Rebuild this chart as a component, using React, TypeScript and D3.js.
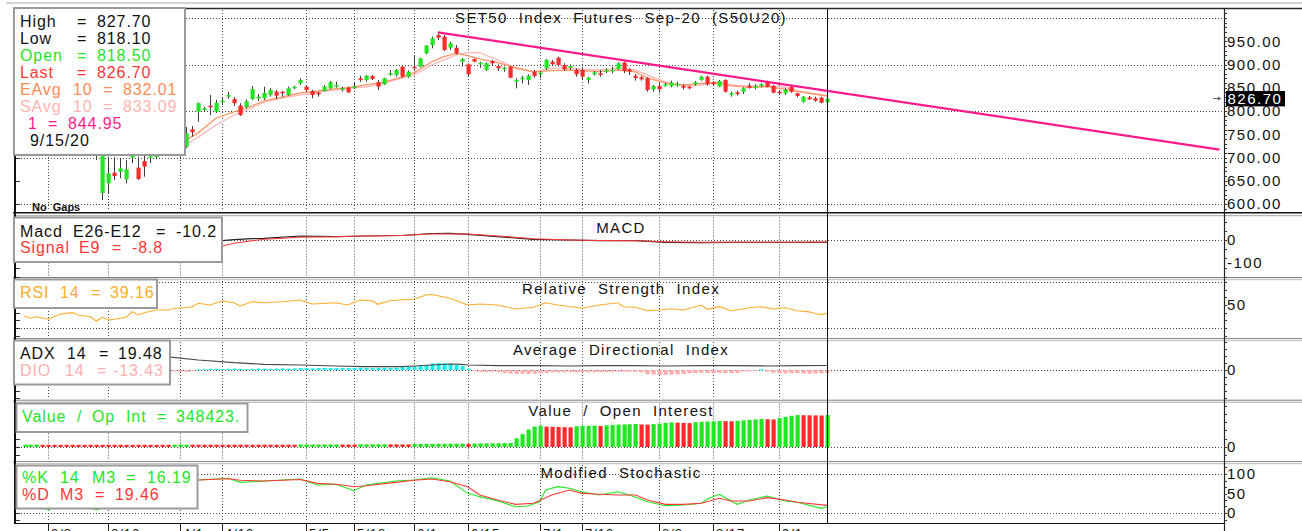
import React from "react";
import * as d3 from "d3";

// ---------- DATA ----------
const opens = [
  905, 893, 882, 868, 870, 882, 888, 872, 855, 810,
  795, 795, 760, 623.7, 644.5, 667.3, 669.5, 653.1, 699.6, 678.1,
  692.5, 700, 701.1, 710, 712, 718, 720, 723.2, 760.6, 798.5,
  802.2, 811.4, 798.5, 819.4, 830.8, 825.8, 812, 808, 825.8, 827.3,
  827.3, 834.4, 841.5, 841.5, 834.4, 848.8, 859.6, 852.3, 843, 839.4,
  843, 848.8, 853.1, 845.2, 850.1, 848.8, 870.3, 866.7, 875.3, 861.7,
  857.4, 877.4, 877.4, 895.3, 873.8, 895.3, 895.3, 924.1, 941.9, 963.4,
  959.8, 936.1, 936.1, 906, 900.4, 911.8, 900.4, 888.2, 907.5, 896.8,
  889.7, 895.3, 863, 868.2, 866.7, 884.5, 878.9, 891.8, 906, 914.6,
  898.9, 893.1, 888.2, 888.2, 866.7, 878.9, 881.1, 884.5, 888.2, 890.3,
  904.3, 889.2, 875.9, 872.5, 870.3, 846.7, 853.8, 853.8, 853.8, 855.9,
  853.8, 852.3, 857.4, 866.7, 873.8, 861.7, 852.3, 866.7, 834.4, 840.2,
  841.5, 853.8, 850.1, 853.8, 863, 853.8, 841.5, 838.1, 852.3, 838.1,
  820, 829.5, 827.3, 828.6, 818.5,
];
const highs = [
  912, 900, 888, 880, 885, 895, 892, 880, 862, 820,
  815, 800, 765, 722, 701.7, 701, 698.3, 694.6, 711.8, 701.7,
  709.7, 709.7, 711.8, 725, 728, 735, 740, 765.6, 767.7, 818,
  809.2, 834.4, 823.7, 828, 840.9, 830, 816.6, 825, 853.8, 836.6,
  852.3, 849.5, 845.2, 843, 852.3, 854.4, 870.3, 855.9, 845.2, 841.5,
  855.9, 864.5, 863, 852.3, 852.3, 860.2, 875.9, 877.4, 877.4, 866.7,
  871.6, 888.2, 890.3, 897.4, 887.5, 920.4, 914.6, 941.9, 959.8, 967.1,
  963.4, 949, 941.9, 914, 902.6, 913.3, 906, 904.7, 909.7, 900.4,
  895.3, 897.4, 870.3, 875.9, 878.9, 888.2, 886, 911.8, 909.7, 916.8,
  902.6, 900.4, 891.8, 891.8, 873.8, 886, 888.2, 891.8, 895.3, 904.7,
  906.5, 891.8, 879.6, 875.3, 872.5, 855.9, 859.6, 860.9, 865.2, 863,
  857.4, 854.4, 864.5, 875.9, 875.9, 864.5, 866.7, 868.2, 841.5, 843.7,
  851, 859.6, 857.4, 859.6, 865.2, 855.9, 845.2, 848.8, 855.9, 839.4,
  832.3, 832.3, 830.8, 830.8, 827.7,
];
const lows = [
  890, 875, 860, 850, 862, 875, 870, 855, 830, 780,
  785, 760, 694.6, 608.6, 623, 651.6, 655.3, 644.5, 688.2, 651.6,
  658.7, 688.2, 698.3, 703.2, 705, 708, 702, 720.4, 744.7, 777,
  798.5, 791, 795.7, 813, 826, 810.7, 789, 805, 823.7, 821.5,
  823.7, 830.8, 825.8, 830.8, 832.9, 846.7, 855.9, 841.5, 827.3, 830.8,
  841.5, 847.3, 850.1, 841.5, 838.1, 847.3, 863, 863, 866.7, 845.2,
  855.9, 875.9, 873.8, 871.6, 871.6, 888.2, 894, 921.9, 934.8, 952.7,
  929, 931.2, 921.9, 895.3, 873.8, 904.7, 893.1, 886, 898.9, 886,
  884.5, 870.3, 848.8, 859.6, 855.9, 871.6, 870.3, 888.2, 897.4, 895.3,
  886, 888.2, 873.8, 868.8, 859.6, 875.9, 873.8, 881.1, 881.1, 888.2,
  881.7, 877.4, 865.2, 865.2, 841.5, 841.5, 839.4, 852.3, 851, 852.3,
  846.7, 846.7, 854.4, 865.2, 854.4, 854.4, 851, 839.4, 830.8, 832.9,
  836.6, 848, 846.7, 851, 851, 838.1, 834.4, 834.4, 839.4, 829.5,
  817.8, 823.7, 820, 816.6, 818.1,
];
const closes = [
  895, 880, 865, 875, 880, 890, 875, 860, 838, 790,
  805, 768, 708, 712, 666, 660.2, 676.8, 674.6, 703.2, 653.8,
  680.2, 702.2, 705.4, 715, 718, 722, 728, 752, 754.2, 816.6,
  805.8, 808, 817.8, 822.2, 834.4, 816.6, 791.4, 821, 847.3, 830.8,
  838.7, 845.2, 832.9, 838.1, 848.8, 852.3, 866.7, 845.2, 834.4, 835.9,
  852.3, 861.7, 855.9, 848.8, 840.2, 852.3, 867.3, 875.9, 868.8, 852.3,
  870.3, 881.1, 888.2, 873.8, 884.5, 891.8, 913.3, 940.4, 956.3, 957.6,
  931.2, 945.6, 924.1, 911.8, 878.9, 906, 903.9, 902.6, 902.6, 891.8,
  893.1, 871.6, 866.7, 871.6, 875.9, 875.3, 882.4, 909.7, 900.4, 898.9,
  889.7, 896.8, 878.9, 873.8, 871.6, 883.2, 878.9, 888.2, 888.9, 902.6,
  886, 884.9, 871, 868.2, 845.2, 853.8, 846.7, 857.4, 860.9, 858.1,
  850.1, 848.8, 861.7, 873.8, 857.4, 857.4, 864.5, 841.5, 838.1, 836.6,
  848.8, 850.1, 853.8, 857.4, 852.3, 839.4, 838.1, 845.2, 841.5, 832.3,
  830.8, 825.2, 822.2, 817.8, 826.7,
];

const dateLabels = ["3/2", "3/16", "4/1", "4/13", "5/5", "5/18", "6/1", "6/15", "7/1", "7/13", "8/3", "8/17", "9/1"];
const dateIndex = [4, 14, 26, 33, 47, 55, 65, 74, 86, 93, 106, 115, 126];

const priceTicks = [950, 900, 850, 800, 750, 700, 650, 600];
const priceGrid = [1000, 900, 800, 700, 600];

type Pt = [number, number];

const emaPoints: Pt[] = [
  [26, 731], [29, 753], [32, 785], [35, 798], [38, 811], [40, 822], [43, 830], [46, 839], [49, 843],
  [52, 848], [54, 850], [57, 856], [60, 862], [63, 873], [65, 882], [68, 906], [70, 917], [72, 924],
  [74, 919], [76, 912], [79, 904], [82, 893], [85, 884], [88, 887], [91, 888], [93, 887], [96, 884.5],
  [99, 888], [102, 884], [104, 871], [107, 860], [110, 856], [113, 859.6], [116, 859.6], [118, 854],
  [121, 851], [124, 852.3], [127, 846.7], [129, 842], [132, 836], [134, 832.01],
];
const smaPoints: Pt[] = [
  [26, 720], [29, 744], [32, 770], [35, 791], [38, 806.5], [40, 819], [43, 828], [46, 834.4], [49, 841],
  [52, 845], [54, 849.5], [57, 851.6], [60, 860], [63, 871], [65, 877], [68, 899], [70, 910], [72, 920],
  [74, 926], [76, 925.4], [79, 910], [82, 892], [85, 884.5], [88, 891.8], [91, 891.8], [93, 889.7],
  [96, 888.2], [99, 891.8], [102, 888.2], [104, 877.4], [107, 863], [110, 853.8], [113, 855.9], [116, 863],
  [118, 855.9], [121, 853.8], [124, 853.8], [127, 851], [129, 843.7], [132, 836.6], [134, 833.09],
];
const trendPoints: Pt[] = [[69, 969], [199.5, 717]];

const macdPoints: Pt[] = [
  [30, -15], [33, -3], [35, 2], [38, 6], [40, 7.4], [46, 17.4], [52, 14.3], [57, 17.4], [63, 19.6],
  [68, 28.3], [71, 29], [74, 24.8], [79, 14.3], [85, 3], [91, 0], [96, -3], [102, -3], [107, -10],
  [113, -11.7], [118, -10], [124, -10], [129, -10], [134, -10.2],
];
const signalPoints: Pt[] = [
  [30, -40], [33, -26], [35, -14], [38, -3], [40, 3], [46, 11.7], [52, 14.3], [57, 17.4], [63, 19.6],
  [68, 26], [71, 26], [74, 26], [79, 17.4], [85, 5.6], [91, 0], [96, -2], [102, -3], [107, -7.4],
  [113, -9.6], [118, -10], [124, -10], [129, -9.6], [134, -8.8],
];

const rsiPoints: Pt[] = [
  [0, 35.7], [1, 32.7], [2, 34.7], [4, 31.4], [6, 38.3], [8, 40], [9, 37], [11, 34.7], [12, 29.1],
  [13, 34], [14, 30.4], [15, 31.4], [17, 34], [18, 41.3], [19, 37], [20, 40], [22, 43.5], [24, 43.5],
  [25, 45.7], [26, 45.7], [28, 47.8], [29, 52.2], [31, 50], [33, 55.2], [35, 53], [36, 48.7], [38, 54.3],
  [40, 53], [43, 54.3], [46, 56.5], [48, 51.3], [52, 53], [54, 50], [56, 56.5], [58, 55.6], [59, 50.9],
  [61, 55.6], [63, 56.8], [65, 57.4], [67, 63], [68, 63.7], [69, 62.1], [71, 58.7], [74, 50], [76, 51.3],
  [79, 50], [82, 44.8], [85, 47], [87, 53], [89, 50], [92, 47], [93, 45.7], [96, 50], [99, 53],
  [100, 47.8], [102, 47], [104, 42.6], [106, 43.5], [108, 45.2], [110, 43.5], [113, 50], [114, 44.4],
  [116, 47.8], [118, 42.6], [121, 46.5], [123, 47.8], [125, 44.8], [127, 46.5], [129, 42.6], [131, 41],
  [132, 39], [133, 37.5], [134, 39.16],
];

const adxPoints: Pt[] = [
  [24, 57], [29, 43.5], [35, 31.7], [40, 24.8], [46, 21.7], [52, 17.4], [57, 14.3], [63, 14.3], [65, 17.4],
  [68, 21.7], [71, 26], [73, 24.8], [74, 21.7], [79, 18.7], [85, 18.7], [91, 17.4], [96, 18.7], [102, 18.7],
  [107, 17.4], [113, 18.7], [118, 18.7], [124, 17.4], [129, 18.7], [134, 19.48],
];
const dioStart = 25;
const dioValues = [
  -6, -8, -8, -5,
  3, 4, 5, 5, 4, 5, 6, 5, 4, 5, 6, 6, 5, 6, 7, 6, 7,
  8, 8, 7, 8, 9, 8, 8, 9, 8, 9, 10, 9, 8, 9, 10, 9, 10,
  12, 13, 15, 20, 22, 28, 30, 29, 27, 22, 18, 6,
  -5, -8, -9, -8, -9,
  -14, -16, -17, -16, -17, -16, -15, -12,
  -10, -11, -10, -9, -10, -11, -10, -10, -9, -10, -9, -8,
  -7, -7, -8, -10,
  -18, -20, -22, -21, -20, -19, -18,
  -14, -13, -12, -13, -14, -13, -13, -14, -13,
  -7, -6, -5, 3,
  -8, -12, -14, -15, -14, -13, -15, -16, -15, -14, -13.43,
];

const oiValues = [
  26000, 26000, 26000, 24000, 24000, 24000, 24000, 24000, 24000, 24000,
  24000, 24000, 24000, 24000, 24000, 24000, 24000, 24000, 24000, 24000,
  24000, 24000, 24000, 24000, 24000, 26000, 26000, 26000, 25000, 25000,
  25000, 25000, 25000, 25000, 25000, 25000, 25000, 25000, 25000, 25000,
  25000, 25000, 25000, 25000, 25000, 25000, 28000, 28000, 28000, 28000,
  28000, 28000, 28000, 27000, 27000, 27000, 30000, 30000, 30000, 30000,
  30000, 29000, 29000, 29000, 29000, 33000, 33000, 34000, 34000, 35000,
  35000, 36000, 36000, 36000, 35000, 38000, 39000, 40000, 40000, 41000,
  42000, 45000, 95000, 140000, 190000, 222000, 232000, 222000, 220000, 218000,
  216000, 215000, 225000, 228000, 230000, 232000, 228000, 236000, 240000, 244000,
  246000, 248000, 250000, 245000, 243000, 250000, 255000, 262000, 268000, 265000,
  262000, 260000, 270000, 275000, 278000, 280000, 283000, 281000, 280000, 285000,
  290000, 295000, 300000, 305000, 302000, 300000, 315000, 328000, 340000, 348000,
  346000, 345000, 344000, 343000, 348423,
];
const oiDirection = (
  "ggg" + "rrrrrrrrrrrrrrrrrrrrrr" + "ggg" + "rrrrrrrrrrrrrrrrrr" + "ggggggg" + "rrr" + "ggggg" + "rrrr" +
  "ggggggggg" + "r" + "gggggggggggg" + "rrrrr" + "gggg" + "r" + "gggggg" + "rr" + "gggg" + "rrr" + "ggggg" +
  "rr" + "ggggg" + "rr" + "gggg" + "rrrr" + "g"
).split("");

const stochK: Pt[] = [
  [0, 30], [2, 18], [4, 8], [6, 25], [8, 15], [10, 20], [12, 8], [14, 18], [16, 32], [18, 48], [20, 55],
  [22, 62], [24, 70], [26, 78], [29, 84.6], [34, 89], [36, 78.6], [40, 82], [46, 87], [49, 71.8], [52, 73.6],
  [55, 57], [57, 71.8], [62, 82], [65, 84.6], [68, 90.5], [71, 82], [74, 50.4], [76, 41.9], [79, 30.8],
  [82, 16.2], [84, 18], [86, 29], [87, 59], [89, 67.5], [91, 63.3], [93, 54.6], [96, 46], [99, 54.6],
  [101, 46], [104, 29], [107, 18.8], [110, 20.5], [113, 24.8], [114, 35.9], [116, 47.9], [119, 22.2],
  [121, 33.3], [124, 43.6], [127, 30.8], [129, 27.4], [133, 12], [134, 16.19],
];
const stochD: Pt[] = [
  [0, 35], [4, 18], [8, 20], [12, 14], [16, 25], [20, 45], [24, 62], [28, 80], [29, 84.6], [34, 88],
  [36, 83.8], [40, 82], [46, 86], [49, 76], [52, 73.6], [55, 67.5], [57, 70], [62, 78.6], [65, 84], [68, 87],
  [71, 80.3], [74, 67.5], [76, 46], [79, 33.3], [82, 22.2], [85, 24.8], [88, 46], [91, 59], [93, 50.4],
  [96, 47.9], [99, 46], [102, 46], [104, 33.3], [107, 22.2], [110, 22.2], [113, 24.8], [116, 37.6],
  [118, 30.8], [121, 30.8], [124, 39.3], [127, 33.3], [129, 27.4], [134, 19.46],
];

// ---------- STYLE ----------
const FONT = "Arial, 'Liberation Sans', Helvetica, sans-serif";
const GREEN = "#22e622";
const RED = "#ff2a2a";
const EMA_C = "#ff9466";
const SMA_C = "#ffbcbc";
const TREND_C = "#ff1a8c";
const RSI_C = "#ffac2a";

type Tok = [string, number];

function Tokens({ y, color, toks }: { y: number; color: string; toks: Tok[] }) {
  return (
    <g fill={color} fontSize={16} style={{ letterSpacing: "0.9px" }}>
      {toks.map(([t, xx], i) => (
        <text key={i} x={xx} y={y}>{t}</text>
      ))}
    </g>
  );
}

export default function App() {
  const LEFT = 16;
  const RIGHT = 1224;
  const x = d3.scaleLinear().domain([0, 134]).range([24.5, 24.5 + 134 * 5.99]);
  const px = (i: number) => Math.round(x(i));

  const yMain = d3.scaleLinear().domain([600, 1000]).range([204, 18]);
  const yMacd = d3.scaleLinear().domain([0, -100]).range([240, 263]);
  const yRsi = d3.scaleLinear().domain([20, 80]).range([328, 282]);
  const yAdx = d3.scaleLinear().domain([0, 100]).range([370, 347]);
  const yOi = d3.scaleLinear().domain([0, 348423]).range([447, 415]);
  const ySto = d3.scaleLinear().domain([0, 100]).range([513, 474]);

  const panels = [
    { id: "main", top: 9, bottom: 212, y: yMain, step: 10, grid: priceGrid },
    { id: "macd", top: 216.5, bottom: 277, y: yMacd, step: 40, grid: [0] },
    { id: "rsi", top: 280, bottom: 338, y: yRsi, step: 10, grid: [20, 80] },
    { id: "adx", top: 341, bottom: 400, y: yAdx, step: 30, grid: [0] },
    { id: "oi", top: 402.5, bottom: 461, y: yOi, step: 90000, grid: [0] },
    { id: "sto", top: 464, bottom: 523, y: ySto, step: 50 / 3, grid: [0, 100] },
  ];

  const ticksFor = (p: (typeof panels)[number]) => {
    const a = p.y.invert(p.bottom);
    const b = p.y.invert(p.top);
    const lo = Math.min(a, b), hi = Math.max(a, b);
    const out: number[] = [];
    for (let k = Math.ceil(lo / p.step); k * p.step <= hi; k++) out.push(k * p.step);
    return out;
  };

  const lineOf = (scale: d3.ScaleLinear<number, number>) =>
    d3.line<Pt>().x((d) => x(d[0])).y((d) => scale(d[1]));

  const axisLabels: { y: number; t: string }[] = [
    ...priceTicks.map((v) => ({ y: yMain(v), t: v.toFixed(2) })),
    { y: yMacd(0), t: "0" },
    { y: yMacd(-100), t: "-100" },
    { y: yRsi(50), t: "50" },
    { y: yAdx(0), t: "0" },
    { y: yOi(0), t: "0" },
    { y: ySto(100), t: "100" },
    { y: ySto(50), t: "50" },
    { y: ySto(0), t: "0" },
  ];

  const lastClose = closes[closes.length - 1];
  const markerX = px(134) + 0.5;
  const legendRowY = (k: number) => 27 + k * 17.05;

  return (
    <svg
      width={1302}
      height={531}
      style={{ position: "absolute", left: 0, top: 0, background: "#fff", fontFamily: FONT }}
    >
      <defs>
        {panels.map((p) => (
          <clipPath id={"clip-" + p.id} key={p.id}>
            <rect x={LEFT} y={p.top} width={RIGHT - LEFT} height={p.bottom - p.top} />
          </clipPath>
        ))}
      </defs>
      <rect x={0} y={0} width={1302} height={531} fill="#fff" />

      {/* frame lines */}
      <line x1={6} x2={1302} y1={3} y2={3} stroke="#d4d4d4" strokeWidth={2} />
      <line x1={13} x2={1302} y1={8.5} y2={8.5} stroke="#2a2a2a" strokeWidth={1.5} />
      <line x1={13} x2={1302} y1={212.8} y2={212.8} stroke="#111" strokeWidth={1.6} />
      <line x1={13} x2={1302} y1={215.6} y2={215.6} stroke="#b4b4b4" strokeWidth={1.4} />
      {[277.5, 338.6, 400.2, 461.6].map((s) => (
        <g key={s}>
          <line x1={13} x2={1302} y1={s} y2={s} stroke="#808080" strokeWidth={1} />
          <line x1={13} x2={1302} y1={s + 2} y2={s + 2} stroke="#c8c8c8" strokeWidth={1.4} />
        </g>
      ))}
      <line x1={15} x2={15} y1={8} y2={524} stroke="#111" strokeWidth={2} />
      <line x1={14} x2={RIGHT + 0.5} y1={523.5} y2={523.5} stroke="#111" strokeWidth={1.2} />
      <line x1={RIGHT + 0.5} x2={RIGHT + 0.5} y1={8} y2={531} stroke="#222" strokeWidth={1.2} />

      {/* gridlines and ticks */}
      {panels.map((p) => (
        <g key={"g" + p.id}>
          {p.grid.map((v) => (
            <line
              key={v}
              x1={LEFT + 2}
              x2={RIGHT - 2}
              y1={Math.round(p.y(v)) + 0.5}
              y2={Math.round(p.y(v)) + 0.5}
              stroke="#4a4a4a"
              strokeWidth={1}
              strokeDasharray="1 2"
            />
          ))}
          {dateIndex.map((di) => (
            <line
              key={di}
              x1={px(di) + 0.5}
              x2={px(di) + 0.5}
              y1={p.top + 1}
              y2={p.bottom - 1}
              stroke="#4a4a4a"
              strokeWidth={1}
              strokeDasharray="1 2"
            />
          ))}
          {ticksFor(p).map((v) => {
            const yy = Math.round(p.y(v)) + 0.5;
            return (
              <g key={"t" + v}>
                <line x1={RIGHT} x2={RIGHT + 3} y1={yy} y2={yy} stroke="#333" strokeWidth={1} />
                {p.id !== "main" || v % 50 === 0 ? (
                  <line x1={16} x2={20} y1={yy} y2={yy} stroke="#333" strokeWidth={1} />
                ) : null}
              </g>
            );
          })}
        </g>
      ))}

      {/* main panel: moving averages, candles, trend line */}
      <g clipPath="url(#clip-main)">
        <path d={lineOf(yMain)(smaPoints) || ""} fill="none" stroke={SMA_C} strokeWidth={1.4} />
        <path d={lineOf(yMain)(emaPoints) || ""} fill="none" stroke={EMA_C} strokeWidth={1.3} />
        {opens.map((o, i) => {
          const c = closes[i];
          const up = c >= o;
          const cx = px(i);
          const yt = yMain(Math.max(o, c));
          const yb = yMain(Math.min(o, c));
          return (
            <g key={i}>
              <line x1={cx + 0.5} x2={cx + 0.5} y1={yMain(highs[i])} y2={yMain(lows[i])} stroke="#3c3c3c" strokeWidth={1} />
              <rect x={cx - 1.5} y={yt} width={4.2} height={Math.max(1.6, yb - yt)} fill={up ? GREEN : RED} />
            </g>
          );
        })}
        <path d={lineOf(yMain)(trendPoints) || ""} fill="none" stroke={TREND_C} strokeWidth={2.2} />
        <text x={32} y={211} fontSize={11} fontWeight="bold" fill="#111" style={{ wordSpacing: "3px" }}>
          No Gaps
        </text>
      </g>

      {/* MACD */}
      <g clipPath="url(#clip-macd)">
        <path d={lineOf(yMacd)(macdPoints) || ""} fill="none" stroke="#222" strokeWidth={1.2} />
        <path d={lineOf(yMacd)(signalPoints) || ""} fill="none" stroke="#ff3838" strokeWidth={1.1} />
      </g>

      {/* RSI */}
      <g clipPath="url(#clip-rsi)">
        <path d={lineOf(yRsi)(rsiPoints) || ""} fill="none" stroke={RSI_C} strokeWidth={1.1} />
      </g>

      {/* ADX */}
      <g clipPath="url(#clip-adx)">
        {dioValues.map((v, k) => {
          const i = dioStart + k;
          const y0 = yAdx(0);
          const y1 = yAdx(v);
          return (
            <rect
              key={k}
              x={px(i) - 1.5}
              y={Math.min(y0, y1)}
              width={4.2}
              height={Math.max(1, Math.abs(y1 - y0))}
              fill={v >= 0 ? "#14f0f0" : "#ffabab"}
            />
          );
        })}
        <path d={lineOf(yAdx)(adxPoints) || ""} fill="none" stroke="#4a4a4a" strokeWidth={1.2} />
      </g>

      {/* Value / Open Interest */}
      <g clipPath="url(#clip-oi)">
        {oiValues.map((v, i) => {
          const y1 = yOi(v);
          return (
            <rect
              key={i}
              x={px(i) - 1.5}
              y={y1}
              width={4.2}
              height={yOi(0) - y1}
              fill={oiDirection[i] === "g" ? GREEN : RED}
            />
          );
        })}
      </g>

      {/* Stochastic */}
      <g clipPath="url(#clip-sto)">
        <path d={lineOf(ySto)(stochK) || ""} fill="none" stroke={GREEN} strokeWidth={1.1} />
        <path d={lineOf(ySto)(stochD) || ""} fill="none" stroke="#ff3838" strokeWidth={1.1} />
      </g>

      {/* current bar marker */}
      <line x1={markerX} x2={markerX} y1={9} y2={523} stroke="#111" strokeWidth={1} />

      {/* titles */}
      <g fontSize={15} fill="#111" textAnchor="middle" style={{ letterSpacing: "1.35px", wordSpacing: "5.5px" }}>
        <text x={621} y={23.3}>SET50 Index Futures Sep-20 (S50U20)</text>
        <text x={621} y={232.5}>MACD</text>
        <text x={621} y={294.3}>Relative Strength Index</text>
        <text x={621} y={355.3}>Average Directional Index</text>
        <text x={621} y={416.3}>Value / Open Interest</text>
        <text x={621} y={478}>Modified Stochastic</text>
      </g>

      {/* right axis labels */}
      <g fontSize={15} fill="#111" style={{ letterSpacing: "1.5px" }}>
        {axisLabels.map((l, i) => (
          <text key={i} x={1227} y={l.y + 5.4}>{l.t}</text>
        ))}
      </g>
      <path d={`M1213,${yMain(lastClose)} h5`} stroke="#555" strokeWidth={1} />
      <path d={`M1218,${yMain(lastClose) - 2} l3,2 l-3,2 z`} fill="#555" />
      <rect x={1226} y={yMain(lastClose) - 7.6} width={59} height={15.4} fill="#000" />
      <text x={1227.5} y={yMain(lastClose) + 5.4} fontSize={15} fill="#fff" style={{ letterSpacing: "1.5px" }}>
        {lastClose.toFixed(2)}
      </text>

      {/* date axis */}
      {dateIndex.map((di, k) => (
        <g key={di}>
          <line x1={px(di) + 0.5} x2={px(di) + 0.5} y1={523} y2={531} stroke="#222" strokeWidth={1} />
          <text x={px(di) + 3} y={538} fontSize={13} fill="#111" style={{ letterSpacing: "1px" }}>
            {dateLabels[k]}
          </text>
        </g>
      ))}

      {/* legend boxes */}
      <g stroke="#9a9a9a" strokeWidth={2} fill="#fff">
        <rect x={14} y={8} width={171} height={147} />
        <rect x={14} y={217.5} width={208} height={44.5} />
        <rect x={14} y={279.5} width={143} height={28.5} />
        <rect x={14} y={340.5} width={156} height={44} />
        <rect x={16.5} y={403.5} width={231} height={28.5} />
        <rect x={16.5} y={465.5} width={181} height={43} />
      </g>
      <Tokens y={legendRowY(0)} color="#111" toks={[["High", 20], ["=", 77], ["827.70", 97]]} />
      <Tokens y={legendRowY(1)} color="#111" toks={[["Low", 20], ["=", 77], ["818.10", 97]]} />
      <Tokens y={legendRowY(2)} color={GREEN} toks={[["Open", 20], ["=", 77], ["818.50", 97]]} />
      <Tokens y={legendRowY(3)} color="#ff3636" toks={[["Last", 20], ["=", 77], ["826.70", 97]]} />
      <Tokens y={legendRowY(4)} color="#ff8a55" toks={[["EAvg", 20], ["10", 73], ["=", 103], ["832.01", 123]]} />
      <Tokens y={legendRowY(5)} color="#ffb4b0" toks={[["SAvg", 20], ["10", 73], ["=", 103], ["833.09", 123]]} />
      <Tokens y={legendRowY(6)} color={TREND_C} toks={[["1", 28], ["=", 48], ["844.95", 68]]} />
      <Tokens y={legendRowY(7)} color="#111" toks={[["9/15/20", 30]]} />

      <Tokens y={236.7} color="#111" toks={[["Macd", 20], ["E26-E12", 73], ["=", 156], ["-10.2", 176]]} />
      <Tokens y={253.3} color="#ff3636" toks={[["Signal", 20], ["E9", 79], ["=", 112], ["-8.8", 132]]} />
      <Tokens y={297.5} color={RSI_C} toks={[["RSI", 20], ["14", 60], ["=", 91], ["39.16", 110]]} />
      <Tokens y={359} color="#111" toks={[["ADX", 20], ["14", 67], ["=", 99], ["19.48", 118]]} />
      <Tokens y={376} color="#ffb0b0" toks={[["DIO", 20], ["14", 65], ["=", 97], ["-13.43", 113]]} />
      <Tokens
        y={422.3}
        color={GREEN}
        toks={[["Value", 22], ["/", 77], ["Op", 92], ["Int", 126], ["=", 157], ["348423.", 176]]}
      />
      <Tokens y={483.3} color={GREEN} toks={[["%K", 22], ["14", 60], ["M3", 92], ["=", 126], ["16.19", 147]]} />
      <Tokens y={500} color="#ff3636" toks={[["%D", 22], ["M3", 60], ["=", 95], ["19.46", 115]]} />
    </svg>
  );
}
